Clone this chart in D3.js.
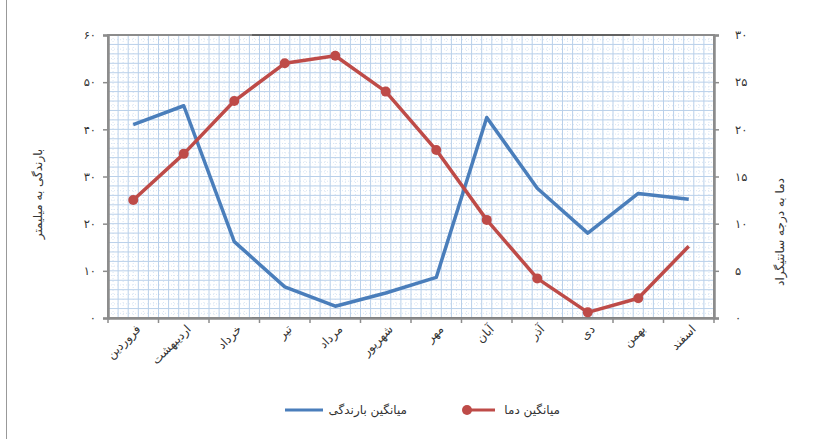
<!DOCTYPE html>
<html>
<head>
<meta charset="utf-8">
<script src="https://cdn.jsdelivr.net/npm/d3@7"></script>
<style>
  body { margin: 0; background: #fff; }
  svg text { font-family: "DejaVu Sans", sans-serif; fill: #333; }
</style>
</head>
<body>
<svg id="chart" width="827" height="439"></svg>
<script>
const months = ["فروردین", "اردیبهشت", "خرداد", "تیر", "مرداد", "شهریور", "مهر", "آبان", "آذر", "دی", "بهمن", "اسفند"];
const rainfall = [41, 45, 16.2, 6.6, 2.5, 5.3, 8.6, 42.5, 27.5, 18, 26.4, 25.2];
const temperature = [12.5, 17.4, 23, 27, 27.8, 24, 17.8, 10.4, 4.2, 0.6, 2.1, 7.6];
const rainTicks = [0, 10, 20, 30, 40, 50, 60];
const tempTicks = [0, 5, 10, 15, 20, 25, 30];

const rainLabel = "بارندگی به میلیمتر";
const tempLabel = "دما به درجه سانتیگراد";
const rainName = "میانگین بارندگی";
const tempName = "میانگین دما";

const blue = "#4a7ebb", red = "#be4b48";
const plotL = 108, plotR = 714, plotT = 35, plotB = 318;

const fa = d => String(d).replace(/\d/g, c => "۰۱۲۳۴۵۶۷۸۹"[c]);

const svg = d3.select("#chart");

const x = d3.scaleBand().domain(months).range([plotL, plotR]);
const yRain = d3.scaleLinear().domain([0, 60]).range([plotB, plotT]);
const yTemp = d3.scaleLinear().domain([0, 30]).range([plotB, plotT]);
const cx = d => x(d) + x.bandwidth() / 2;

// page border line on the left
svg.append("line").attr("x1", 6.5).attr("x2", 6.5).attr("y1", 0).attr("y2", 439)
    .attr("stroke", "#999").attr("stroke-width", 1);

// graph-paper grid
const grid = svg.append("g");
const vx = d3.range(0, 12 * 5 + 1).map(i => plotL + i * x.bandwidth() / 5);
const hy = d3.range(0, 31).map(i => yRain(i * 2));
const hstep = yRain(0) - yRain(1);

grid.selectAll("line.vminor").data(vx.slice(0, -1)).join("line").attr("class", "vminor")
    .attr("x1", d => d + x.bandwidth() / 10).attr("x2", d => d + x.bandwidth() / 10)
    .attr("y1", plotT).attr("y2", plotB)
    .attr("stroke", "#d9e5f3").attr("stroke-dasharray", "1,2");
grid.selectAll("line.hminor").data(hy.slice(0, -1)).join("line").attr("class", "hminor")
    .attr("x1", plotL).attr("x2", plotR)
    .attr("y1", d => d - hstep).attr("y2", d => d - hstep)
    .attr("stroke", "#d9e5f3").attr("stroke-dasharray", "1,2");
grid.selectAll("line.vmajor").data(vx).join("line").attr("class", "vmajor")
    .attr("x1", d => d).attr("x2", d => d).attr("y1", plotT).attr("y2", plotB)
    .attr("stroke", "#b9d0ea");
grid.selectAll("line.hmajor").data(hy).join("line").attr("class", "hmajor")
    .attr("x1", plotL).attr("x2", plotR).attr("y1", d => d).attr("y2", d => d)
    .attr("stroke", "#b9d0ea");

// frame
svg.append("rect").attr("x", plotL).attr("y", plotT).attr("width", plotR - plotL).attr("height", plotB - plotT)
    .attr("fill", "none").attr("stroke", "#8c8c8c").attr("stroke-width", 2);
[plotT, plotB].forEach(yy => svg.append("line").attr("x1", 252).attr("x2", 630).attr("y1", yy).attr("y2", yy)
    .attr("stroke", "#555").attr("stroke-width", 1.5));

// axes
const axL = svg.append("g").attr("transform", `translate(${plotL},0)`)
    .call(d3.axisLeft(yRain).tickValues(rainTicks).tickSize(5).tickPadding(7).tickFormat(fa));
const axR = svg.append("g").attr("transform", `translate(${plotR},0)`)
    .call(d3.axisRight(yTemp).tickValues(tempTicks).tickSize(5).tickPadding(16).tickFormat(fa));
const axB = svg.append("g").attr("transform", `translate(0,${plotB})`)
    .call(d3.axisBottom(x).tickSize(0).tickFormat(""));
axB.selectAll("line.bt").data(d3.range(13)).join("line").attr("class", "bt")
    .attr("x1", i => plotL + i * x.bandwidth()).attr("x2", i => plotL + i * x.bandwidth())
    .attr("y1", 0).attr("y2", 5).attr("stroke", "#8c8c8c").attr("stroke-width", 1.5);

[axL, axR, axB].forEach(a => {
    a.select(".domain").attr("stroke", "#8c8c8c").attr("stroke-width", 2.5);
    a.selectAll(".tick line").attr("stroke", "#8c8c8c").attr("stroke-width", 1.5);
    a.selectAll(".tick text").attr("font-size", 11.5).attr("fill", "#333");
});

// month labels
svg.append("g").selectAll("text").data(months).join("text")
    .attr("transform", d => `translate(${cx(d) + 5},${plotB + 9}) rotate(-45)`)
    .attr("text-anchor", "end").attr("dy", "0.35em").attr("font-size", 12)
    .text(d => d);

// axis titles
svg.append("text").attr("transform", "translate(38,194) rotate(-90)")
    .attr("text-anchor", "middle").attr("dy", "0.35em").attr("font-size", 12).text(rainLabel);
svg.append("text").attr("transform", "translate(780,232) rotate(-90)")
    .attr("text-anchor", "middle").attr("dy", "0.35em").attr("font-size", 12).text(tempLabel);

// series
const rainLine = d3.line().x((d, i) => cx(months[i])).y(d => yRain(d));
const tempLine = d3.line().x((d, i) => cx(months[i])).y(d => yTemp(d));

svg.append("path").datum(rainfall).attr("d", rainLine)
    .attr("fill", "none").attr("stroke", blue).attr("stroke-width", 3.5).attr("stroke-linejoin", "round");
svg.append("path").datum(temperature).attr("d", tempLine)
    .attr("fill", "none").attr("stroke", red).attr("stroke-width", 3.5).attr("stroke-linejoin", "round");
svg.append("g").selectAll("circle").data(temperature.slice(0, -1)).join("circle")
    .attr("cx", (d, i) => cx(months[i])).attr("cy", d => yTemp(d)).attr("r", 5)
    .attr("fill", red);

// legend
const lg = svg.append("g");
lg.append("line").attr("x1", 285).attr("x2", 323).attr("y1", 410).attr("y2", 410)
    .attr("stroke", blue).attr("stroke-width", 3);
lg.append("text").attr("x", 407).attr("y", 410).attr("dy", "0.35em").attr("text-anchor", "end")
    .attr("font-size", 12).text(rainName);
lg.append("line").attr("x1", 464).attr("x2", 495).attr("y1", 410).attr("y2", 410)
    .attr("stroke", red).attr("stroke-width", 3);
lg.append("circle").attr("cx", 467).attr("cy", 410).attr("r", 5).attr("fill", red);
lg.append("text").attr("x", 560).attr("y", 410).attr("dy", "0.35em").attr("text-anchor", "end")
    .attr("font-size", 12).text(tempName);
</script>
</body>
</html>
